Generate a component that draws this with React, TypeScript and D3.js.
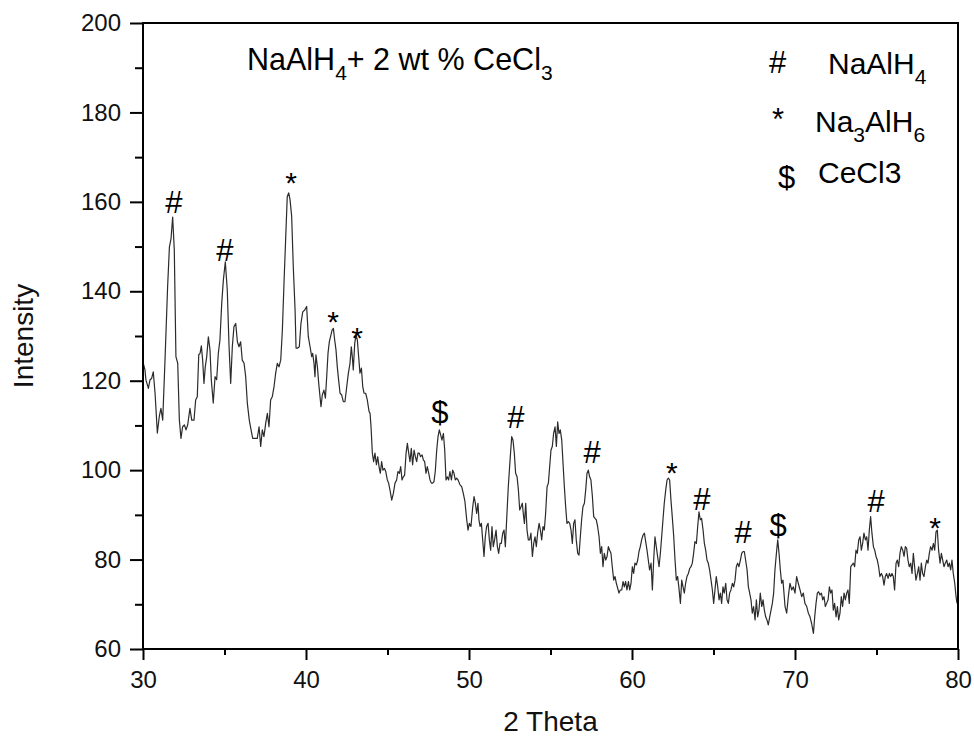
import React, { useEffect, useRef } from "react";
import * as d3 from "d3";

type Pt = [number, number];

// 2 theta (deg), intensity (a.u.)
const scan30to40: Pt[] = [
  [30.02, 123.9], [30.12, 122.4], [30.18, 120.2], [30.33, 118.3], [30.43, 120.2], [30.53, 120.5],
  [30.63, 122.0], [30.74, 117.2], [30.88, 108.3], [31.0, 112.0], [31.1, 113.8], [31.21, 111.2],
  [31.35, 124.6], [31.51, 141.0], [31.62, 149.9], [31.72, 151.8], [31.82, 156.6], [31.92, 149.2],
  [32.02, 125.4], [32.13, 123.9], [32.23, 111.2], [32.33, 107.1], [32.43, 109.7], [32.54, 110.1],
  [32.64, 109.0], [32.74, 110.1], [32.88, 113.8], [32.99, 111.2], [33.13, 111.2], [33.23, 115.7],
  [33.33, 116.4], [33.42, 125.8], [33.5, 126.1], [33.58, 127.8], [33.66, 124.6], [33.74, 119.4],
  [33.82, 123.1], [33.91, 125.4], [34.01, 129.8], [34.11, 126.9], [34.19, 120.2], [34.31, 115.0],
  [34.42, 120.9], [34.52, 120.2], [34.62, 126.1], [34.72, 129.1], [34.83, 137.3], [34.93, 142.5],
  [35.05, 146.6], [35.17, 140.3], [35.28, 127.6], [35.38, 119.4], [35.48, 127.6], [35.58, 132.1],
  [35.69, 132.8], [35.79, 128.7], [35.89, 127.6], [35.99, 128.7], [36.09, 124.6], [36.2, 123.9],
  [36.3, 120.9], [36.4, 115.0], [36.52, 111.2], [36.63, 109.0], [36.73, 107.1], [36.87, 107.1],
  [37.01, 107.1], [37.12, 109.7], [37.22, 105.3], [37.32, 109.0], [37.42, 107.5], [37.53, 110.5],
  [37.63, 112.7], [37.73, 109.7], [37.83, 115.7], [37.93, 116.4], [38.04, 118.7], [38.14, 121.7],
  [38.24, 123.9], [38.34, 123.1], [38.45, 124.6], [38.55, 131.3], [38.65, 141.8], [38.75, 151.5],
  [38.85, 161.2], [38.94, 162.0], [39.02, 160.5], [39.12, 156.8], [39.22, 145.5], [39.33, 135.8],
  [39.39, 127.3], [39.49, 127.3], [39.59, 127.6], [39.69, 132.8], [39.8, 135.4], [39.92, 135.8],
  [40.04, 136.6],
];

const scan40to50: Pt[] = [
  [40.14, 129.9], [40.25, 127.6], [40.35, 125.4], [40.41, 126.1], [40.49, 123.9], [40.55, 120.9],
  [40.61, 125.8], [40.7, 123.1], [40.78, 119.4], [40.86, 116.4], [40.92, 114.2], [41.0, 116.8],
  [41.1, 117.9], [41.19, 116.1], [41.27, 120.9], [41.35, 126.1], [41.43, 128.7], [41.51, 129.9],
  [41.6, 131.3], [41.68, 131.7], [41.76, 129.1], [41.84, 126.9], [41.92, 123.1], [42.0, 120.2],
  [42.09, 117.2], [42.19, 116.8], [42.29, 115.3], [42.39, 115.3], [42.5, 118.7], [42.6, 121.7],
  [42.7, 123.9], [42.78, 127.6], [42.84, 125.4], [42.9, 122.4], [42.99, 128.4], [43.07, 130.2],
  [43.15, 129.1], [43.23, 125.4], [43.31, 121.7], [43.4, 122.8], [43.48, 118.7], [43.56, 117.2],
  [43.66, 117.2], [43.76, 115.7], [43.87, 113.1], [43.93, 112.7], [43.99, 109.7], [44.07, 103.8],
  [44.15, 101.9], [44.23, 103.8], [44.32, 101.2], [44.4, 103.0], [44.48, 100.8], [44.56, 99.3],
  [44.64, 101.9], [44.72, 100.0], [44.81, 100.4], [44.89, 99.7], [44.99, 97.8], [45.07, 97.1],
  [45.15, 95.6], [45.26, 93.3], [45.36, 94.8], [45.46, 97.1], [45.56, 97.8], [45.64, 99.7],
  [45.73, 99.3], [45.81, 100.8], [45.89, 97.8], [45.97, 98.5], [46.05, 98.9], [46.14, 103.8],
  [46.22, 106.0], [46.3, 103.8], [46.38, 101.9], [46.46, 104.9], [46.54, 101.2], [46.63, 104.5],
  [46.71, 103.0], [46.79, 101.9], [46.87, 103.8], [46.95, 103.8], [47.03, 103.0], [47.12, 103.4],
  [47.2, 102.3], [47.28, 101.9], [47.36, 99.3], [47.44, 100.8], [47.53, 99.3], [47.61, 97.8],
  [47.69, 97.1], [47.77, 97.1], [47.85, 97.4], [47.93, 99.7], [48.02, 104.5], [48.1, 107.5],
  [48.18, 109.0], [48.26, 107.9], [48.34, 106.7], [48.43, 108.2], [48.51, 104.5], [48.59, 97.8],
  [48.67, 98.5], [48.75, 97.8], [48.83, 99.7], [48.92, 97.8], [49.0, 100.0], [49.08, 99.3],
  [49.16, 97.8], [49.24, 98.2], [49.33, 97.8],
];

const scan50to60: Pt[] = [
  [49.45, 96.7], [49.55, 96.3], [49.65, 94.8], [49.75, 93.0], [49.86, 88.9], [49.94, 86.6],
  [50.02, 88.1], [50.12, 87.4], [50.23, 91.8], [50.31, 94.1], [50.39, 92.6], [50.47, 90.3],
  [50.55, 92.6], [50.61, 88.9], [50.68, 87.4], [50.76, 88.1], [50.84, 84.4], [50.92, 80.7],
  [51.0, 85.1], [51.08, 87.4], [51.17, 88.1], [51.25, 84.4], [51.33, 82.1], [51.41, 87.4],
  [51.49, 82.9], [51.57, 84.4], [51.66, 86.6], [51.74, 82.9], [51.82, 81.4], [51.9, 83.6],
  [51.98, 83.6], [52.07, 85.9], [52.15, 86.6], [52.23, 82.9], [52.31, 88.9], [52.41, 96.3],
  [52.52, 102.3], [52.62, 107.5], [52.7, 106.7], [52.78, 103.8], [52.86, 99.3], [52.95, 98.5],
  [53.03, 95.6], [53.11, 91.1], [53.19, 91.8], [53.27, 92.6], [53.33, 90.3], [53.4, 88.1],
  [53.48, 92.6], [53.56, 86.6], [53.64, 84.4], [53.72, 84.4], [53.8, 85.9], [53.89, 80.7],
  [53.97, 83.6], [54.05, 85.1], [54.13, 82.9], [54.21, 85.9], [54.3, 88.1], [54.38, 86.6],
  [54.46, 84.4], [54.54, 87.4], [54.62, 86.6], [54.7, 90.3], [54.79, 96.3], [54.87, 97.1],
  [54.95, 100.8], [55.03, 104.5], [55.11, 105.3], [55.19, 108.2], [55.28, 109.7], [55.36, 105.3],
  [55.44, 110.8], [55.52, 108.2], [55.6, 109.0], [55.69, 106.7], [55.77, 101.5], [55.85, 96.3],
  [55.93, 91.8], [56.01, 88.1], [56.09, 88.5], [56.18, 88.1], [56.26, 86.6], [56.34, 83.6],
  [56.42, 88.1], [56.5, 88.9], [56.58, 84.4], [56.67, 81.4], [56.75, 81.0], [56.83, 85.1],
  [56.91, 88.9], [56.99, 91.8], [57.08, 92.6], [57.16, 95.6], [57.24, 99.3], [57.32, 100.0],
  [57.4, 98.5], [57.48, 97.8], [57.57, 94.1], [57.65, 89.6], [57.73, 89.2], [57.81, 88.9],
  [57.89, 87.4], [57.98, 85.1], [58.06, 81.4], [58.14, 82.9], [58.22, 78.4], [58.3, 81.4],
  [58.39, 79.9], [58.47, 80.7], [58.55, 82.9], [58.63, 82.1], [58.71, 81.4], [58.79, 78.4],
  [58.88, 75.4], [58.96, 76.2], [59.04, 74.7], [59.12, 73.6], [59.2, 72.5], [59.28, 73.2],
];

const scan60to70: Pt[] = [
  [59.37, 73.2], [59.45, 75.1], [59.53, 73.9], [59.61, 75.1], [59.69, 73.2], [59.78, 75.1],
  [59.86, 73.2], [59.94, 74.7], [60.02, 78.4], [60.1, 76.9], [60.18, 79.2], [60.27, 78.8],
  [60.35, 79.9], [60.43, 81.8], [60.51, 82.9], [60.59, 84.4], [60.68, 85.5], [60.76, 85.9],
  [60.84, 84.0], [60.92, 82.1], [61.0, 79.9], [61.08, 77.7], [61.17, 79.2], [61.25, 73.2],
  [61.33, 79.9], [61.41, 85.1], [61.49, 82.9], [61.57, 80.7], [61.66, 78.4], [61.74, 81.4],
  [61.82, 85.1], [61.9, 88.9], [61.98, 92.6], [62.07, 95.6], [62.15, 97.8], [62.23, 98.2],
  [62.31, 97.8], [62.39, 93.3], [62.47, 89.6], [62.56, 85.1], [62.64, 79.9], [62.72, 75.4],
  [62.8, 76.2], [62.88, 73.6], [62.97, 70.2], [63.05, 75.4], [63.13, 73.9], [63.21, 72.5],
  [63.29, 74.7], [63.37, 76.2], [63.46, 76.9], [63.54, 78.0], [63.62, 78.4], [63.7, 79.2],
  [63.78, 81.4], [63.86, 84.0], [63.95, 83.6], [64.03, 87.4], [64.11, 90.7], [64.19, 88.9],
  [64.27, 89.2], [64.36, 86.6], [64.44, 83.6], [64.52, 82.1], [64.6, 79.9], [64.68, 79.2],
  [64.76, 77.7], [64.85, 75.4], [64.93, 73.2], [65.01, 70.2], [65.09, 73.2], [65.17, 76.2],
  [65.26, 73.9], [65.34, 71.0], [65.42, 72.5], [65.5, 70.2], [65.58, 73.9], [65.66, 72.5],
  [65.75, 74.7], [65.83, 71.0], [65.91, 70.2], [65.99, 72.5], [66.07, 73.2], [66.16, 74.7],
  [66.24, 73.9], [66.32, 75.4], [66.4, 78.4], [66.48, 79.2], [66.56, 78.4], [66.65, 79.9],
  [66.73, 81.4], [66.81, 81.8], [66.89, 81.8], [66.97, 79.9], [67.06, 77.7], [67.14, 73.9],
  [67.22, 72.5], [67.3, 71.0], [67.38, 68.0], [67.46, 69.5], [67.55, 66.5], [67.63, 71.0],
  [67.71, 67.2], [67.79, 68.7], [67.87, 72.5], [67.96, 69.5], [68.04, 71.0], [68.12, 68.7],
  [68.2, 67.2], [68.28, 66.5], [68.36, 65.4], [68.45, 67.2], [68.53, 68.7], [68.61, 70.2],
  [68.69, 72.5], [68.77, 77.7], [68.86, 81.4], [68.94, 84.4], [69.02, 81.4], [69.1, 77.7],
  [69.18, 74.7], [69.26, 75.4],
];

const scan70to80: Pt[] = [
  [69.39, 69.5], [69.49, 68.0], [69.59, 71.7], [69.69, 74.7], [69.8, 73.2], [69.9, 73.9],
  [70.0, 72.5], [70.1, 76.2], [70.2, 74.7], [70.31, 73.2], [70.41, 71.7], [70.51, 72.5],
  [70.61, 70.2], [70.72, 69.5], [70.82, 68.0], [70.92, 67.2], [71.02, 65.7], [71.13, 63.5],
  [71.21, 67.2], [71.29, 70.2], [71.37, 72.5], [71.45, 72.8], [71.53, 72.1], [71.62, 72.5],
  [71.7, 71.0], [71.78, 71.7], [71.86, 69.5], [71.94, 70.2], [72.03, 71.0], [72.11, 73.9],
  [72.19, 72.5], [72.27, 73.2], [72.35, 68.7], [72.43, 70.2], [72.52, 67.2], [72.6, 69.5],
  [72.68, 66.5], [72.76, 68.0], [72.84, 71.7], [72.92, 69.5], [73.01, 72.5], [73.09, 71.0],
  [73.17, 72.5], [73.25, 73.2], [73.33, 70.2], [73.42, 78.4], [73.5, 78.8], [73.58, 79.2],
  [73.66, 78.4], [73.74, 82.1], [73.82, 81.4], [73.91, 84.4], [73.99, 85.1], [74.07, 82.1],
  [74.15, 83.6], [74.23, 85.9], [74.32, 84.4], [74.4, 85.1], [74.48, 82.1], [74.56, 86.6],
  [74.64, 89.6], [74.72, 85.9], [74.81, 82.9], [74.89, 82.1], [74.97, 80.7], [75.05, 79.9],
  [75.13, 78.4], [75.21, 76.2], [75.3, 76.9], [75.38, 76.2], [75.46, 74.3], [75.54, 76.2],
  [75.62, 76.9], [75.71, 75.8], [75.79, 76.9], [75.87, 76.2], [75.95, 76.9], [76.03, 76.2],
  [76.11, 73.2], [76.2, 79.2], [76.28, 79.9], [76.36, 78.4], [76.44, 81.4], [76.52, 82.9],
  [76.61, 82.1], [76.69, 80.7], [76.77, 82.9], [76.85, 82.5], [76.93, 79.9], [77.01, 78.4],
  [77.1, 79.2], [77.18, 76.9], [77.26, 81.4], [77.34, 78.4], [77.42, 75.4], [77.51, 76.9],
  [77.59, 78.4], [77.67, 75.4], [77.75, 79.2], [77.83, 76.9], [77.91, 76.2], [78.0, 78.4],
  [78.08, 79.9], [78.16, 79.2], [78.24, 81.4], [78.32, 82.9], [78.41, 82.1], [78.49, 83.6],
  [78.57, 82.1], [78.65, 86.2], [78.73, 86.6], [78.81, 82.1], [78.9, 79.2], [78.98, 81.4],
  [79.06, 79.9], [79.14, 78.4], [79.22, 79.2], [79.31, 79.9], [79.39, 78.4], [79.47, 79.2],
  [79.55, 77.7], [79.63, 79.9], [79.71, 76.9], [79.8, 74.7], [79.88, 71.7], [79.94, 70.2],
];

const pattern: Pt[] = [...scan30to40, ...scan40to50, ...scan50to60, ...scan60to70, ...scan70to80];

const thetaMajor = [30, 40, 50, 60, 70, 80];
const thetaMinor = [35, 45, 55, 65, 75];
const intensityMajor = [60, 80, 100, 120, 140, 160, 180, 200];
const intensityMinor = [70, 90, 110, 130, 150, 170, 190];

// phase marks above the reflections (theta, baseline level)
const peakMarks = [
  { theta: 31.9, level: 157.6, mark: "#" },
  { theta: 35.03, level: 146.8, mark: "#" },
  { theta: 39.08, level: 162.0, mark: "*" },
  { theta: 41.66, level: 130.9, mark: "*" },
  { theta: 43.13, level: 127.3, mark: "*" },
  { theta: 48.22, level: 110.5, mark: "$" },
  { theta: 52.88, level: 109.4, mark: "#" },
  { theta: 57.55, level: 101.6, mark: "#" },
  { theta: 62.45, level: 97.1, mark: "*" },
  { theta: 64.29, level: 91.1, mark: "#" },
  { theta: 66.81, level: 83.7, mark: "#" },
  { theta: 68.96, level: 85.3, mark: "$" },
  { theta: 74.97, level: 90.6, mark: "#" },
  { theta: 78.59, level: 84.8, mark: "*" },
];

type Part = { t: string; sub?: boolean };
const titleParts: Part[] = [
  { t: "NaAlH" }, { t: "4", sub: true }, { t: "+ 2 wt % CeCl" }, { t: "3", sub: true },
];
const legendMarks = ["#", "*", "$"];
const legendNames: Part[][] = [
  [{ t: "NaAlH" }, { t: "4", sub: true }],
  [{ t: "Na" }, { t: "3", sub: true }, { t: "AlH" }, { t: "6", sub: true }],
  [{ t: "CeCl3" }],
];

const FONT = "'Liberation Sans', Arial, Helvetica, sans-serif";

const XrdChart: React.FC = () => {
  const svgRef = useRef<SVGSVGElement>(null);

  useEffect(() => {
    if (!svgRef.current) return;
    const svg = d3.select(svgRef.current);
    svg.selectAll("*").remove();

    const left = 143, right = 958, top = 23, bottom = 649;
    const x = d3.scaleLinear().domain([30, 80]).range([left, right]);
    const y = d3.scaleLinear().domain([60, 200]).range([bottom, top]);

    const richText = (
      sel: d3.Selection<SVGTextElement, unknown, null, undefined>,
      parts: Part[],
      size: number,
      subSize: number,
      shift: number
    ) => {
      let cur = 0;
      parts.forEach((p) => {
        const target = p.sub ? shift : 0;
        sel.append("tspan")
          .attr("font-size", p.sub ? subSize : size)
          .attr("dy", target - cur)
          .text(p.t);
        cur = target;
      });
    };

    // minor ticks first, then major with labels
    const styleAxis = (g: d3.Selection<SVGGElement, unknown, null, undefined>) => {
      g.selectAll("line").attr("stroke", "#000").attr("stroke-width", 2);
      g.selectAll("text").attr("font-family", FONT).attr("font-size", 24).attr("fill", "#111");
      g.select(".domain").remove();
    };

    svg.append("g")
      .attr("transform", `translate(0,${bottom})`)
      .call(d3.axisBottom(x).tickValues(thetaMinor).tickSize(6).tickFormat(() => ""))
      .call(styleAxis);
    svg.append("g")
      .attr("transform", `translate(0,${bottom})`)
      .call(d3.axisBottom(x).tickValues(thetaMajor).tickSize(11).tickPadding(11).tickFormat(d3.format("d")))
      .call(styleAxis);
    svg.append("g")
      .attr("transform", `translate(${left},0)`)
      .call(d3.axisLeft(y).tickValues(intensityMinor).tickSize(8).tickFormat(() => ""))
      .call(styleAxis);
    svg.append("g")
      .attr("transform", `translate(${left},0)`)
      .call(d3.axisLeft(y).tickValues(intensityMajor).tickSize(13).tickPadding(9).tickFormat(d3.format("d")))
      .call(styleAxis);

    const line = d3.line<Pt>().x((d) => x(d[0])).y((d) => y(d[1]));
    svg.append("path")
      .datum(pattern)
      .attr("fill", "none")
      .attr("stroke", "#2b2b2b")
      .attr("stroke-width", 1.2)
      .attr("stroke-linejoin", "round")
      .attr("d", line);

    svg.append("rect")
      .attr("x", left)
      .attr("y", top)
      .attr("width", right - left)
      .attr("height", bottom - top)
      .attr("fill", "none")
      .attr("stroke", "#000")
      .attr("stroke-width", 2);

    svg.append("g")
      .selectAll("text")
      .data(peakMarks)
      .join("text")
      .attr("x", (d) => x(d.theta))
      .attr("y", (d) => y(d.level))
      .attr("text-anchor", "middle")
      .attr("font-family", FONT)
      .attr("font-size", (d) => (d.mark === "*" ? 30 : 31))
      .attr("fill", "#000")
      .text((d) => d.mark);

    const title = svg.append("text")
      .attr("x", 247)
      .attr("y", 70)
      .attr("font-family", FONT)
      .attr("fill", "#000");
    richText(title, titleParts, 30.5, 21, 10);

    const markPos = [[769, 73], [772, 130], [778, 188]];
    const namePos = [[828, 74], [815, 132], [818, 183]];
    legendMarks.forEach((m, i) => {
      svg.append("text")
        .attr("x", markPos[i][0])
        .attr("y", markPos[i][1])
        .attr("font-family", FONT)
        .attr("font-size", 31)
        .attr("fill", "#000")
        .text(m);
      const t = svg.append("text")
        .attr("x", namePos[i][0])
        .attr("y", namePos[i][1])
        .attr("font-family", FONT)
        .attr("fill", "#000");
      richText(t, legendNames[i], 30, 21, 10);
    });

    svg.append("text")
      .attr("x", (left + right) / 2)
      .attr("y", 731)
      .attr("text-anchor", "middle")
      .attr("font-family", FONT)
      .attr("font-size", 28)
      .attr("fill", "#111")
      .text("2 Theta");

    svg.append("text")
      .attr("transform", `translate(33,${(top + bottom) / 2}) rotate(-90)`)
      .attr("text-anchor", "middle")
      .attr("font-family", FONT)
      .attr("font-size", 28)
      .attr("fill", "#111")
      .text("Intensity");
  }, []);

  return (
    <svg
      ref={svgRef}
      width={974}
      height={740}
      style={{ position: "absolute", left: 0, top: 0, background: "#fff" }}
    />
  );
};

export default function App() {
  return <XrdChart />;
}
